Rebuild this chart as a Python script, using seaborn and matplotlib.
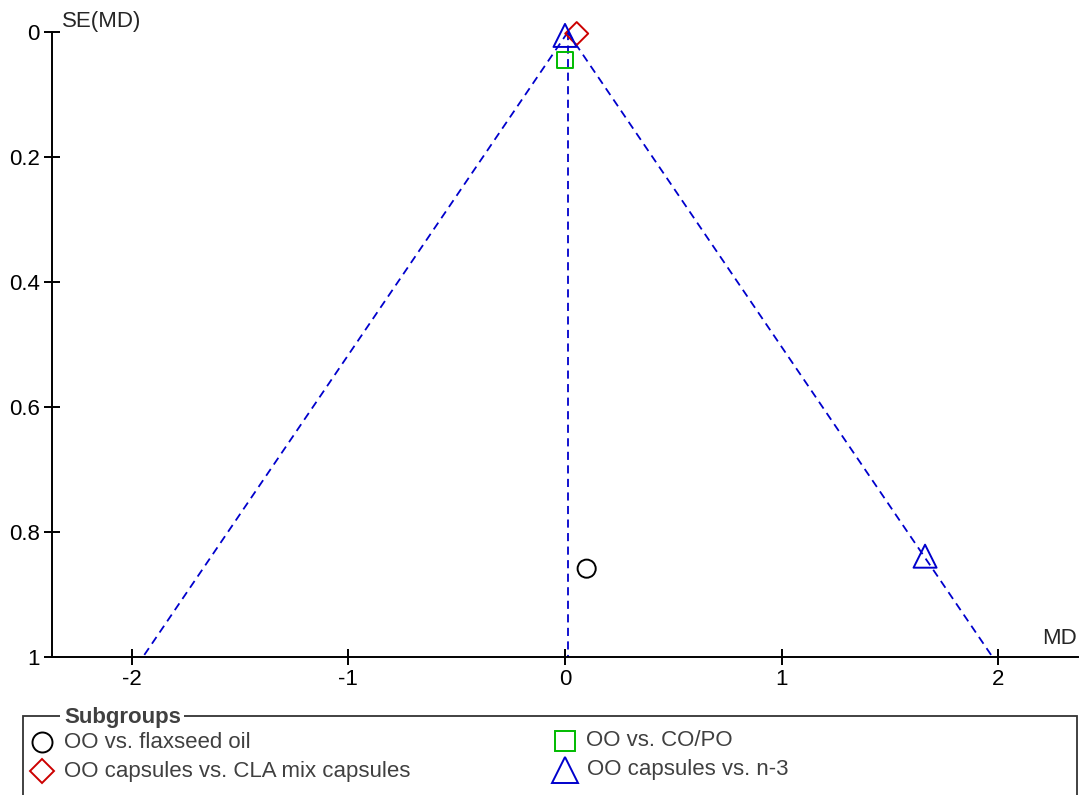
import numpy as np
import pandas as pd
import matplotlib
matplotlib.use("Agg")
import matplotlib.pyplot as plt
from matplotlib.patches import Rectangle
from matplotlib.lines import Line2D
import seaborn as sns

# Study estimates: mean difference and its standard error, by subgroup
subgroups = ["OO vs. flaxseed oil", "OO vs. CO/PO",
             "OO capsules vs. CLA mix capsules", "OO capsules vs. n-3"]
study_group = ["OO vs. flaxseed oil", "OO vs. CO/PO",
               "OO capsules vs. CLA mix capsules", "OO capsules vs. n-3",
               "OO capsules vs. n-3"]
md = [0.10, 0.00, 0.054, 0.00, 1.662]
se_md = [0.859, 0.044, 0.002, 0.005, 0.839]

# Pooled estimate for the funnel
pooled = 0.0125
se_range = [0.0, 1.0]

x_ticks = [-2, -1, 0, 1, 2]
y_ticks = [0, 0.2, 0.4, 0.6, 0.8, 1]
y_ticklabels = ["0", "0.2", "0.4", "0.6", "0.8", "1"]

colors = {"OO vs. flaxseed oil": "#000000",
          "OO vs. CO/PO": "#00BB00",
          "OO capsules vs. CLA mix capsules": "#CC0000",
          "OO capsules vs. n-3": "#0000CC"}
markers = {"OO vs. flaxseed oil": "o",
           "OO vs. CO/PO": "s",
           "OO capsules vs. CLA mix capsules": "D",
           "OO capsules vs. n-3": "^"}
# scatter sizes (points^2) in the plot and marker sizes (points) in the key
plot_sizes = {"o": 170, "s": 140, "D": 137, "^": 275}
key_sizes = {"o": 14.4, "s": 13.7, "D": 12.2, "^": 18.7}

FS = 16

sns.set_style("white")
plt.rcParams["font.family"] = ["Liberation Sans", "DejaVu Sans"]

df = pd.DataFrame({"MD": md, "SE": se_md, "group": study_group})

fig = plt.figure(figsize=(10.82, 7.95), dpi=100)
ax = fig.add_axes([52 / 1082, 1 - 656.7 / 795, (1078 - 52) / 1082, (656.7 - 32.3) / 795])

# Funnel lines: pooled estimate and 95% limits
se_arr = np.array(se_range)
funnel_style = dict(color="#0000CC", lw=1.3, ls=(0, (4.5, 3)), zorder=1)
ax.plot([pooled, pooled], se_arr, **funnel_style)
ax.plot(pooled - 1.96 * se_arr, se_arr, **funnel_style)
ax.plot(pooled + 1.96 * se_arr, se_arr, **funnel_style)

# Study points, one marker shape per subgroup
for g in subgroups:
    sub = df[df["group"] == g]
    m = markers[g]
    sns.scatterplot(data=sub, x="MD", y="SE", ax=ax, marker=m, s=plot_sizes[m],
                    facecolor="none", edgecolor=colors[g], linewidth=1.4,
                    legend=False, zorder=3, clip_on=False)

ax.set_xlim(-2.368, 2.368)
ax.set_ylim(1, 0)
ax.set_xticks(x_ticks)
ax.set_xticklabels([str(t) for t in x_ticks])
ax.set_yticks(y_ticks)
ax.set_yticklabels(y_ticklabels)
ax.set_xlabel("")
ax.set_ylabel("")
for s in ["top", "right"]:
    ax.spines[s].set_visible(False)
for s in ["left", "bottom"]:
    ax.spines[s].set_linewidth(1.4)
    ax.spines[s].set_color("black")
ax.tick_params(axis="both", direction="inout", length=12, width=1.4,
               labelsize=FS, colors="black", bottom=True, left=True)
ax.tick_params(axis="x", pad=3)
ax.tick_params(axis="y", pad=3)

ax.text(0.0095, 1.0, "SE(MD)", transform=ax.transAxes, fontsize=FS,
        ha="left", va="bottom")
ax.text(0.999, 0.012, "MD", transform=ax.transAxes, fontsize=FS,
        ha="right", va="bottom")

# Legend box with the title set into the top border
W, H = 1082.0, 795.0
def fx(px):
    return px / W
def fy(py):
    return 1 - py / H

box = Rectangle((fx(23), fy(800)), fx(1077) - fx(23), fy(716) - fy(800),
                transform=fig.transFigure, fill=False, edgecolor="#333333",
                lw=1.3, clip_on=False)
fig.patches.append(box)
fig.text(fx(64), fy(717), "Subgroups", fontsize=FS, fontweight="bold",
         color="#404040", ha="left", va="center",
         bbox=dict(facecolor="white", edgecolor="none", pad=2.5))

legend_pos = {"OO vs. flaxseed oil": (42, 742),
              "OO capsules vs. CLA mix capsules": (42, 771),
              "OO vs. CO/PO": (564.5, 741),
              "OO capsules vs. n-3": (565, 770)}
for g, (px, py) in legend_pos.items():
    m = markers[g]
    fig.add_artist(Line2D([fx(px)], [fy(py)], transform=fig.transFigure,
                          marker=m, markersize=key_sizes[m],
                          markerfacecolor="none", markeredgecolor=colors[g],
                          markeredgewidth=1.4, linestyle="none"))
    fig.text(fx(px + 22), fy(py), g, fontsize=FS, color="#404040",
             ha="left", va="center")

fig.savefig("out.png", dpi=100)
